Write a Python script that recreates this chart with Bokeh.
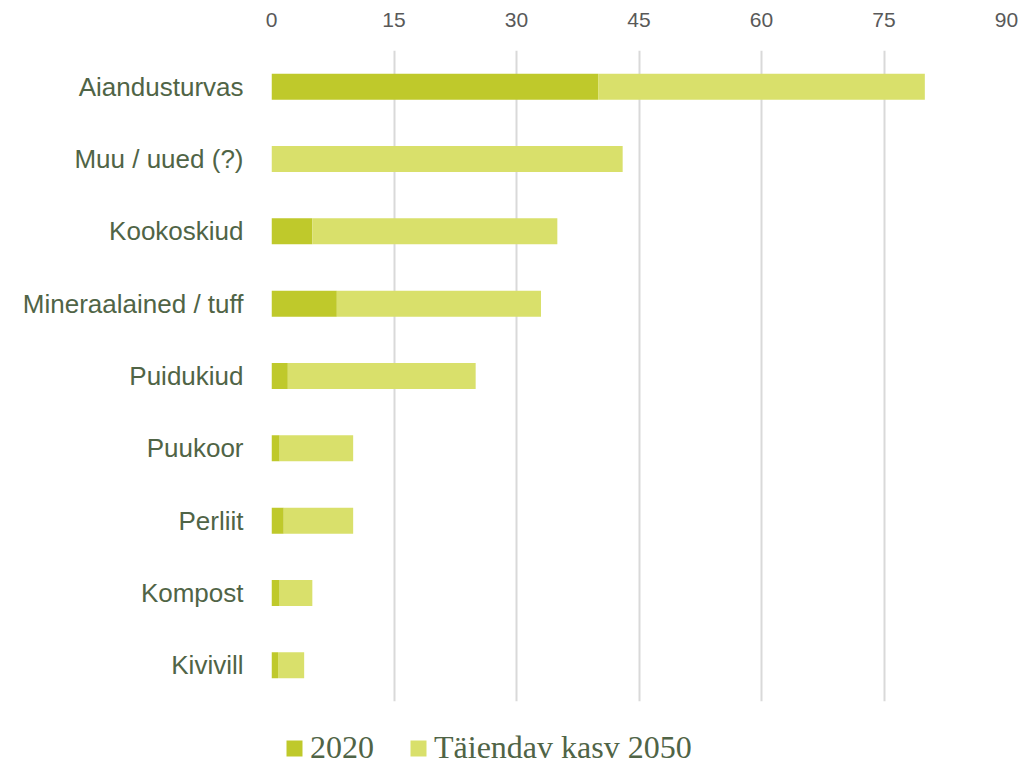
from bokeh.plotting import figure
from bokeh.layouts import column
from bokeh.models import Range1d, FactorRange, FixedTicker, Legend, LegendItem
from bokeh.embed import file_html
from bokeh.resources import INLINE

categories = ["Aiandusturvas", "Muu / uued (?)", "Kookoskiud", "Mineraalained / tuff",
              "Puidukiud", "Puukoor", "Perliit", "Kompost", "Kivivill"]
v2020 = [40, 0, 5, 8, 2, 1, 1.5, 1, 0.8]
v_extra = [40, 43, 30, 25, 23, 9, 8.5, 4, 3.2]
x_ticks = [0, 15, 30, 45, 60, 75, 90]
series = ["2020", "Täiendav kasv 2050"]
colors = ["#BFC92B", "#D9E06B"]

TEXT = "#506446"

p = figure(width=1023, height=706, output_backend="svg", toolbar_location=None,
           y_range=FactorRange(factors=list(reversed(categories))),
           x_range=Range1d(0, 90), x_axis_location="above",
           min_border_left=271, min_border_right=17, min_border_top=50, min_border_bottom=5)
p.outline_line_color = None

data = dict(cat=categories, a=v2020, b=v_extra)
rs = p.hbar_stack(["a", "b"], y="cat", height=0.36, color=colors, line_color=None, source=data)

p.xaxis.ticker = FixedTicker(ticks=x_ticks)
p.xaxis.axis_line_color = None
p.xaxis.major_tick_line_color = None
p.xaxis.minor_tick_line_color = None
p.xaxis.major_label_text_font = "Liberation Sans"
p.xaxis.major_label_text_font_size = "21px"
p.xaxis.major_label_text_color = "#595959"
p.xaxis.major_label_standoff = 18

p.yaxis.axis_line_color = None
p.yaxis.major_tick_line_color = None
p.yaxis.minor_tick_line_color = None
p.yaxis.major_label_text_font = "Liberation Sans"
p.yaxis.major_label_text_font_size = "26px"
p.yaxis.major_label_text_color = TEXT
p.yaxis.major_label_standoff = 22

p.xgrid.grid_line_color = "#D9D9D9"
p.xgrid.grid_line_width = 2
p.ygrid.grid_line_color = None

# legend strip below the chart (its frame is aligned with the chart's frame)
lg = figure(width=1023, height=60, output_backend="svg", toolbar_location=None,
            x_range=Range1d(0, 1), y_range=Range1d(0, 1),
            min_border_left=0, min_border_right=0, min_border_top=0, min_border_bottom=0)
lg.axis.visible = False
lg.grid.visible = False
lg.outline_line_color = None
# hidden swatch renderers (outside the visible range) only used for the legend
dummy = [lg.hbar(y=[-5], left=[0], right=[1], height=1, color=c, line_color=None) for c in colors]

legend = Legend(items=[LegendItem(label=series[i], renderers=[dummy[i]]) for i in range(2)],
                orientation="horizontal", location=(13, 0),
                glyph_width=20, glyph_height=20, label_standoff=6, spacing=34,
                padding=0, margin=0, border_line_color=None, background_fill_alpha=0,
                label_text_font="Liberation Serif", label_text_font_size="32px",
                label_text_color=TEXT)
lg.add_layout(legend, "center")

layout = column(p, lg, spacing=0)
open("out.html", "w").write(file_html(layout, INLINE))
